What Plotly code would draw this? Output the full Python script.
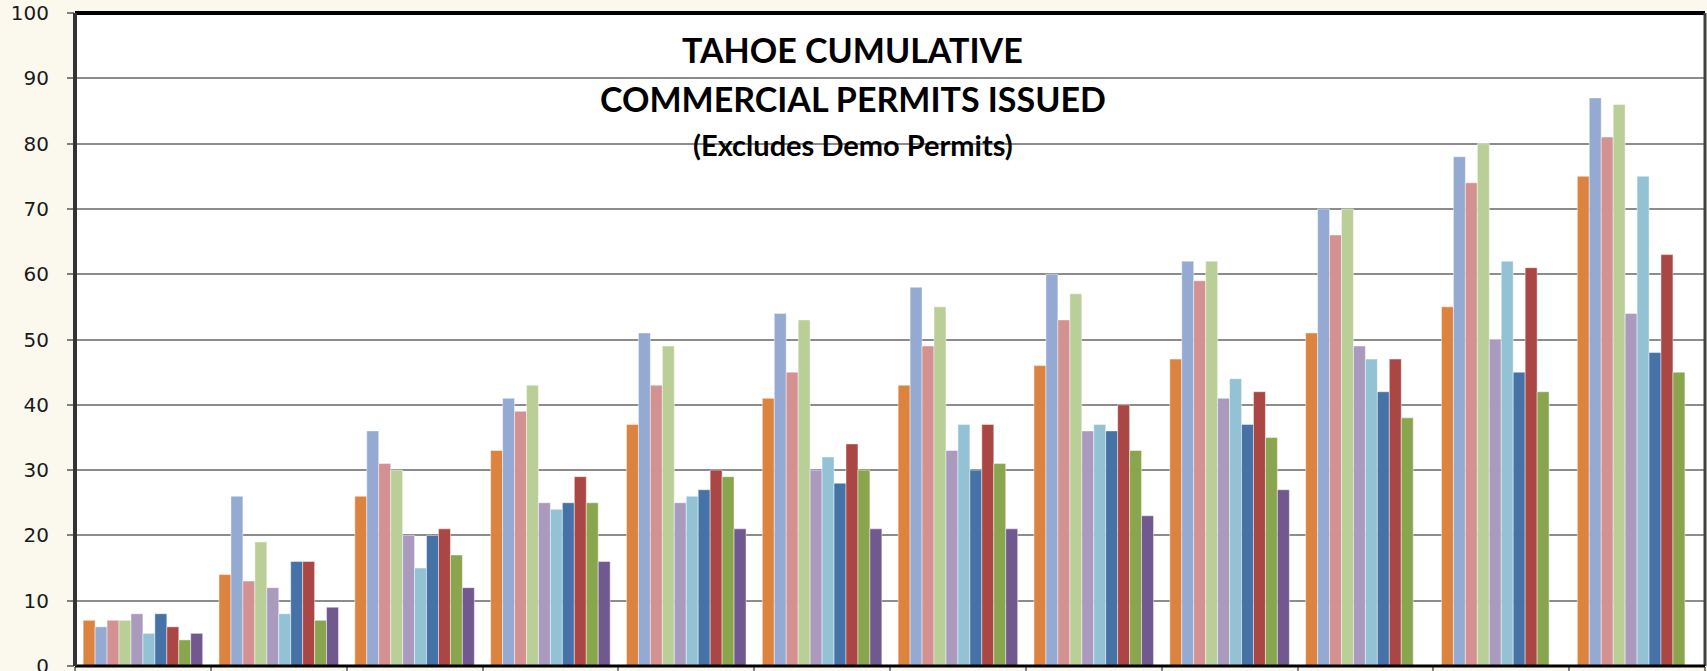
import plotly.graph_objects as go

months = ["JAN", "FEB", "MAR", "APR", "MAY", "JUN", "JUL", "AUG", "SEP", "OCT", "NOV", "DEC"]
series_names = ["2007", "2008", "2009", "2010", "2011", "2012", "2013", "2014", "2015", "2016"]

s2007 = [7, 14, 26, 33, 37, 41, 43, 46, 47, 51, 55, 75]
s2008 = [6, 26, 36, 41, 51, 54, 58, 60, 62, 70, 78, 87]
s2009 = [7, 13, 31, 39, 43, 45, 49, 53, 59, 66, 74, 81]
s2010 = [7, 19, 30, 43, 49, 53, 55, 57, 62, 70, 80, 86]
s2011 = [8, 12, 20, 25, 25, 30, 33, 36, 41, 49, 50, 54]
s2012 = [5, 8, 15, 24, 26, 32, 37, 37, 44, 47, 62, 75]
s2013 = [8, 16, 20, 25, 27, 28, 30, 36, 37, 42, 45, 48]
s2014 = [6, 16, 21, 29, 30, 34, 37, 40, 42, 47, 61, 63]
s2015 = [4, 7, 17, 25, 29, 30, 31, 33, 35, 38, 42, 45]
s2016 = [5, 9, 12, 16, 21, 21, 21, 23, 27, None, None, None]

all_series = [s2007, s2008, s2009, s2010, s2011, s2012, s2013, s2014, s2015, s2016]
colors = ["#DC833F", "#94AAD2", "#D39191", "#BACF97", "#AA9BBE",
          "#92C2D4", "#4572A7", "#AA4644", "#89A54E", "#71588F"]

title1 = "TAHOE CUMULATIVE"
title2 = "COMMERCIAL PERMITS ISSUED"
title3 = "(Excludes Demo Permits)"

fig = go.Figure()
for name, vals, col in zip(series_names, all_series, colors):
    fig.add_trace(go.Bar(
        x=months, y=vals, name=name,
        marker=dict(color=col, line=dict(color="rgba(255,255,255,0.45)", width=1)),
    ))

# plot area: x 75..1705, y 13..666
fig.update_layout(
    width=1707, height=671,
    margin=dict(l=75, r=2, t=13, b=5),
    paper_bgcolor="#FBF9EE",
    plot_bgcolor="#FFFFFF",
    barmode="group",
    bargap=0.12,
    bargroupgap=0,
    showlegend=False,
    xaxis=dict(
        type="category",
        automargin=False,
        showticklabels=False,
        ticks="outside", tickson="boundaries", ticklen=5, tickcolor="#808080", tickwidth=2,
        showgrid=False, zeroline=False, showline=False,
    ),
    yaxis=dict(
        range=[0, 100], dtick=10,
        automargin=False,
        tickfont=dict(family="DejaVu Sans", size=20, color="#1A1A1A"),
        ticks="outside", ticklen=7, tickcolor="#808080", tickwidth=2,
        ticklabelstandoff=14,
        ticklabeloverflow="allow",
        showgrid=True, gridcolor="#8C8C8C", gridwidth=2,
        zeroline=False, showline=False,
    ),
    shapes=[
        dict(type="line", xref="paper", yref="paper", x0=0, x1=1, y0=1, y1=1,
             line=dict(color="#000000", width=4), layer="above"),
        dict(type="line", xref="paper", yref="paper", x0=1, x1=1, y0=0, y1=1,
             line=dict(color="#404040", width=3), layer="above"),
        dict(type="line", xref="paper", yref="paper", x0=0, x1=1, y0=0, y1=0,
             line=dict(color="#000000", width=3), layer="above"),
        dict(type="line", xref="paper", yref="paper", x0=0, x1=0, y0=0, y1=1,
             line=dict(color="#333333", width=4), layer="above"),
    ],
    annotations=[
        dict(text="<b>" + title1 + "</b>", xref="paper", yref="paper", x=0.477, y=0.944,
             yanchor="middle", showarrow=False, font=dict(family="Lato", size=34, color="#000000")),
        dict(text="<b>" + title2 + "</b>", xref="paper", yref="paper", x=0.477, y=0.869,
             yanchor="middle", showarrow=False, font=dict(family="Lato", size=34, color="#000000")),
        dict(text="<b>" + title3 + "</b>", xref="paper", yref="paper", x=0.477, y=0.799,
             yanchor="middle", showarrow=False, font=dict(family="Lato", size=29, color="#000000")),
    ],
)

fig.write_html(
    "out.html",
    config={"displayModeBar": False},
    post_script="document.body.style.margin='0';document.body.style.overflow='hidden';",
)
